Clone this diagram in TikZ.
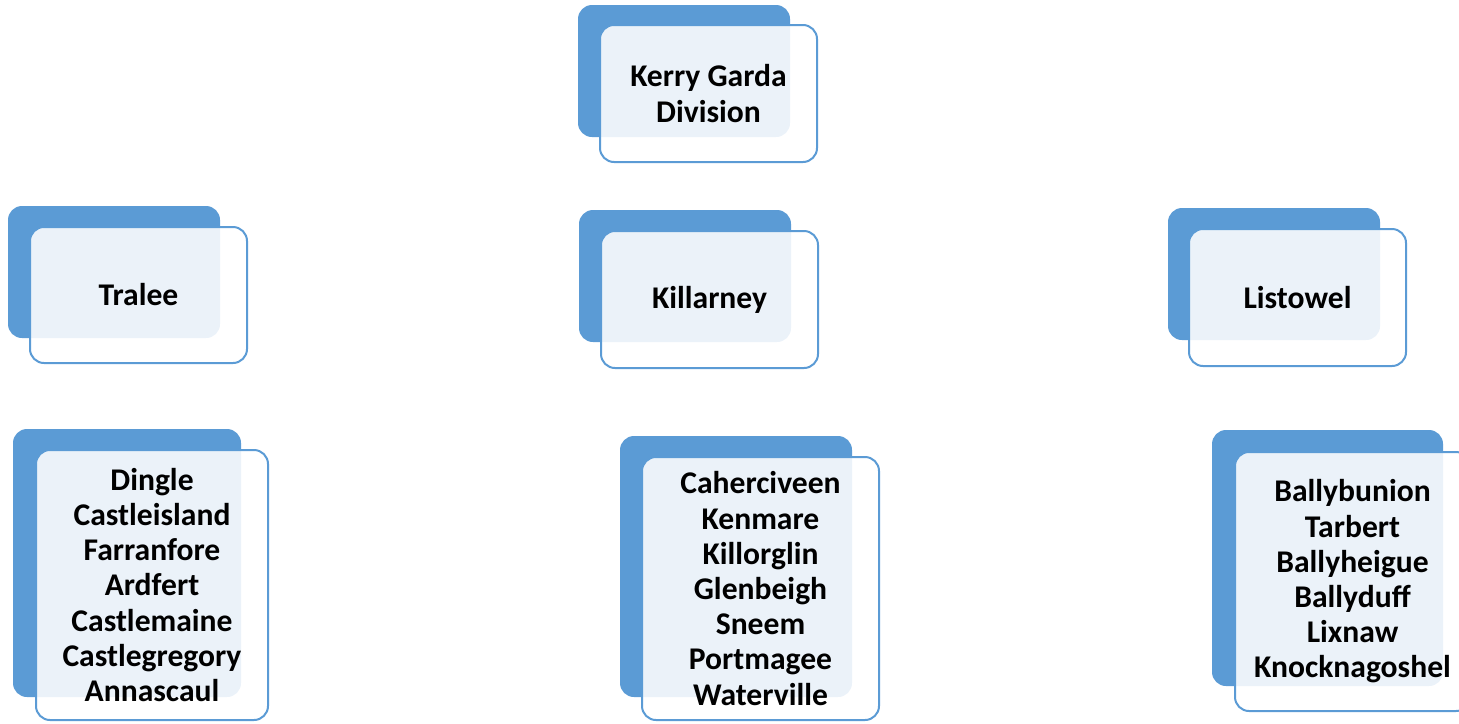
\documentclass[tikz,border=0pt]{standalone}
\usepackage{fontspec}
\setmainfont{Carlito}
\definecolor{gardablue}{HTML}{5B9BD5}

\begin{document}
\begin{tikzpicture}[
		x=0.5pt, y=-0.5pt,
		back/.style={fill=gardablue, rounded corners=7pt, inner sep=0pt},
		front/.style={draw=gardablue, line width=1pt, fill=white, fill opacity=0.88, text opacity=1,
			rounded corners=7pt, inner sep=0pt, align=center,
			font=\bfseries\fontsize{15.8}{17.6}\selectfont}
	]
	\useasboundingbox (0,0) rectangle (1459,723);

	% Back boxes
	\node[back, minimum width=106pt, minimum height=66pt] (kerryback) at (684,71) {};
	\node[back, minimum width=106pt, minimum height=66pt] (traleeback) at (114,272) {};
	\node[back, minimum width=106pt, minimum height=66pt] (killarneyback) at (685,276) {};
	\node[back, minimum width=106pt, minimum height=66pt] (listowelback) at (1274,274) {};
	\node[back, minimum width=114pt, minimum height=134pt] (traleelistback) at (127,563) {};
	\node[back, minimum width=116pt, minimum height=130.5pt] (killarneylistback) at (736,566.5) {};
	\node[back, minimum width=115.5pt, minimum height=128pt] (listowellistback) at (1327.5,558) {};

	% Front boxes
	\node[front, minimum width=108.5pt, minimum height=68.5pt] (kerry) at (708.5,93.5) {Kerry Garda\\Division};
	\node[front, minimum width=108.5pt, minimum height=68pt] (tralee) at (138.5,295) {Tralee};
	\node[front, minimum width=108.5pt, minimum height=68.5pt] (killarney) at (709.5,299.5) {Killarney};
	\node[front, minimum width=108.5pt, minimum height=68.5pt] (listowel) at (1297.5,297.5) {Listowel};

	% Station lists
	\node[front, minimum width=116pt, minimum height=135pt] (traleelist) at (152,585)
		{Dingle\\Castleisland\\Farranfore\\Ardfert\\Castlemaine\\Castlegregory\\Annascaul};
	\node[front, minimum width=118.5pt, minimum height=131.5pt] (killarneylist) at (760.5,588.5)
		{Caherciveen\\Kenmare\\Killorglin\\Glenbeigh\\Sneem\\Portmagee\\Waterville};
	\node[front, minimum width=117.5pt, minimum height=129.5pt] (listowellist) at (1352.5,581.5)
		{Ballybunion\\Tarbert\\Ballyheigue\\Ballyduff\\Lixnaw\\Knocknagoshel};
\end{tikzpicture}
\end{document}
